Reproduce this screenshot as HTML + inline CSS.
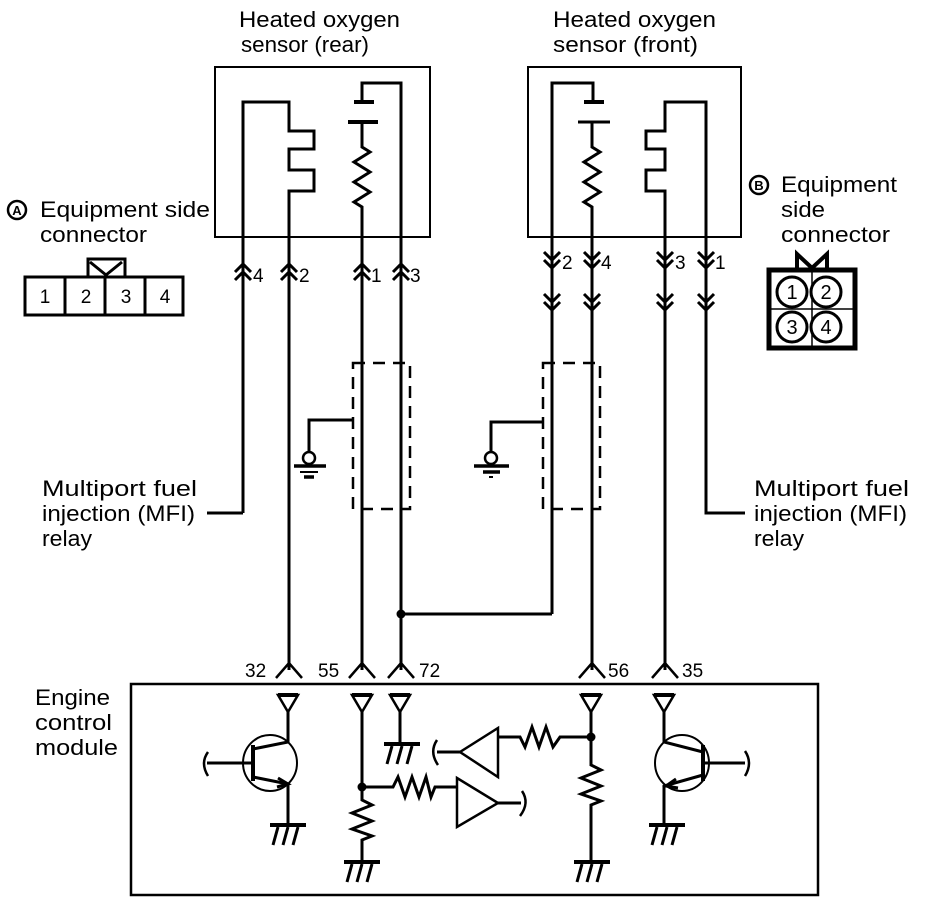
<!DOCTYPE html>
<html><head><meta charset="utf-8"><style>
html,body{margin:0;padding:0;background:#fff}
svg{display:block}
text{font-family:"Liberation Sans",Arial,sans-serif;fill:#000}
</style></head><body>
<svg width="928" height="904" viewBox="0 0 928 904" xmlns="http://www.w3.org/2000/svg">
<defs>
<g id="up"><path d="M-8,8 L0,0 L8,8 M-8,16 L0,8 L8,16" fill="none" stroke="#000" stroke-width="3"/></g>
<g id="dn"><path d="M-8,0 L0,8 L8,0 M-8,8 L0,16 L8,8" fill="none" stroke="#000" stroke-width="3"/></g>
<g id="pin"><path d="M-13,15 L0,0 L13,15" fill="none" stroke="#000" stroke-width="2.5"/></g>
<g id="tri"><path d="M-10,0 L10,0 L0,17 Z" fill="none" stroke="#000" stroke-width="2.5"/><line x1="-10" y1="0" x2="10" y2="0" stroke="#000" stroke-width="4"/></g>
<g id="gnd"><line x1="-18" y1="0" x2="18" y2="0" stroke="#000" stroke-width="4"/><path d="M-10,2 L-15,20 M0,2 L-5,20 M10,2 L5,20" stroke="#000" stroke-width="3"/></g>
</defs>
<g font-size="22" lengthAdjust="spacingAndGlyphs">
<text x="239" y="27" textLength="161" lengthAdjust="spacingAndGlyphs">Heated oxygen</text>
<text x="241" y="52" textLength="128" lengthAdjust="spacingAndGlyphs">sensor (rear)</text>
<text x="553" y="27" textLength="163" lengthAdjust="spacingAndGlyphs">Heated oxygen</text>
<text x="553" y="52" textLength="145" lengthAdjust="spacingAndGlyphs">sensor (front)</text>
<text x="40" y="217" textLength="170" lengthAdjust="spacingAndGlyphs">Equipment side</text>
<text x="40" y="242" textLength="107" lengthAdjust="spacingAndGlyphs">connector</text>
<text x="781" y="192" textLength="116" lengthAdjust="spacingAndGlyphs">Equipment</text>
<text x="781" y="217" textLength="44" lengthAdjust="spacingAndGlyphs">side</text>
<text x="781" y="242" textLength="109" lengthAdjust="spacingAndGlyphs">connector</text>
<text x="42" y="496" textLength="155" lengthAdjust="spacingAndGlyphs">Multiport fuel</text>
<text x="42" y="521" textLength="153" lengthAdjust="spacingAndGlyphs">injection (MFI)</text>
<text x="42" y="546" textLength="50" lengthAdjust="spacingAndGlyphs">relay</text>
<text x="754" y="496" textLength="155" lengthAdjust="spacingAndGlyphs">Multiport fuel</text>
<text x="754" y="521" textLength="153" lengthAdjust="spacingAndGlyphs">injection (MFI)</text>
<text x="754" y="546" textLength="50" lengthAdjust="spacingAndGlyphs">relay</text>
<text x="35" y="705" textLength="75" lengthAdjust="spacingAndGlyphs">Engine</text>
<text x="35" y="730" textLength="77" lengthAdjust="spacingAndGlyphs">control</text>
<text x="35" y="755" textLength="83" lengthAdjust="spacingAndGlyphs">module</text>
</g>
<!-- circled A, B -->
<circle cx="17" cy="210" r="9" fill="none" stroke="#000" stroke-width="2.5"/>
<text x="17" y="215" font-size="13" font-weight="bold" text-anchor="middle">A</text>
<circle cx="759" cy="185" r="9" fill="none" stroke="#000" stroke-width="2.5"/>
<text x="759" y="190" font-size="13" font-weight="bold" text-anchor="middle">B</text>
<!-- connector A -->
<g fill="none" stroke="#000" stroke-width="3">
<rect x="25" y="277" width="158" height="38"/>
<line x1="65" y1="277" x2="65" y2="315"/><line x1="105" y1="277" x2="105" y2="315"/><line x1="145" y1="277" x2="145" y2="315"/>
<path d="M88,277 L88,259 L125,259 L125,277 M90,262 L106,275 L122,262"/>
</g>
<g font-size="19" text-anchor="middle"><text x="45" y="303">1</text><text x="86" y="303">2</text><text x="126" y="303">3</text><text x="165" y="303">4</text></g>
<!-- connector B -->
<g fill="none" stroke="#000">
<rect x="769" y="270" width="86" height="78" stroke-width="5"/>
<line x1="769" y1="309" x2="855" y2="309" stroke-width="1.5"/><line x1="812" y1="270" x2="812" y2="348" stroke-width="1.5"/>
<circle cx="792" cy="292" r="15" stroke-width="3" fill="#fff"/><circle cx="826" cy="292" r="15" stroke-width="3" fill="#fff"/>
<circle cx="792" cy="327" r="15" stroke-width="3" fill="#fff"/><circle cx="826" cy="327" r="15" stroke-width="3" fill="#fff"/>
<path d="M797,270 L797,254 L812,268 L827,254 L827,270" stroke-width="4"/>
</g>
<g font-size="20" text-anchor="middle"><text x="792" y="299">1</text><text x="826" y="299">2</text><text x="792" y="334">3</text><text x="826" y="334">4</text></g>
<!-- sensor boxes -->
<g fill="none" stroke="#000" stroke-width="2">
<rect x="215" y="67" width="215" height="170"/>
<rect x="528" y="67" width="213" height="170"/>
</g>
<g fill="none" stroke="#000" stroke-width="3">
<path d="M243,513 L243,102 L289,102 L289,131 L314,131 L314,149 L289,149 L289,170 L314,170 L314,191 L289,191 L289,670"/>
<path d="M207,513 L243,513"/>
<path d="M401,670 L401,83 L362,83 L362,102"/>
<line x1="354" y1="102" x2="374" y2="102" stroke-width="4"/>
<line x1="348" y1="122" x2="378" y2="122" stroke-width="4"/>
<path d="M362,122 L362,147 L370,152 L354,162 L370,172 L354,182 L370,192 L354,202 L362,207 L362,670"/>
<path d="M552,614 L552,83 L593,83 L593,102"/>
<line x1="584" y1="102" x2="604" y2="102" stroke-width="4"/>
<line x1="578" y1="122" x2="610" y2="122" stroke-width="3"/>
<path d="M592,122 L592,147 L600,152 L584,162 L600,172 L584,182 L600,192 L584,202 L592,207 L592,670"/>
<path d="M665,670 L665,191 L646,191 L646,170 L665,170 L665,149 L646,149 L646,131 L665,131 L665,102 L706,102 L706,513 L745,513"/>
<path d="M401,614 L552,614"/>
<path d="M353,420 L309,420 L309,452"/>
<path d="M543,422 L491,422 L491,452"/>
</g>
<circle cx="401" cy="614" r="4.5"/>
<g fill="none" stroke="#000" stroke-width="2.5">
<circle cx="309" cy="458" r="6"/><circle cx="491" cy="458" r="6"/>
<rect x="353" y="363" width="57" height="146" stroke-dasharray="12,8"/>
<rect x="543" y="363" width="57" height="146" stroke-dasharray="12,8"/>
</g>
<g stroke="#000" stroke-width="3.5">
<line x1="294" y1="466" x2="326" y2="466"/><line x1="300" y1="472" x2="318" y2="472" stroke-width="2"/><line x1="304" y1="477" x2="314" y2="477"/>
<line x1="474" y1="466" x2="509" y2="466"/><line x1="483" y1="472" x2="500" y2="472"/><line x1="489" y1="477" x2="493" y2="477" stroke-width="2"/>
</g>
<use href="#up" x="243" y="264"/><use href="#up" x="289" y="264"/><use href="#up" x="362" y="264"/><use href="#up" x="401" y="264"/>
<g font-size="19"><text x="253" y="282">4</text><text x="299" y="282">2</text><text x="371" y="282">1</text><text x="410" y="282">3</text>
<text x="562" y="269">2</text><text x="601" y="269">4</text><text x="675" y="269">3</text><text x="715" y="269">1</text></g>
<use href="#dn" x="552" y="252"/><use href="#dn" x="592" y="252"/><use href="#dn" x="665" y="252"/><use href="#dn" x="706" y="252"/>
<use href="#dn" x="552" y="294"/><use href="#dn" x="592" y="294"/><use href="#dn" x="665" y="294"/><use href="#dn" x="706" y="294"/>
<use href="#pin" x="289" y="663"/><use href="#pin" x="362" y="663"/><use href="#pin" x="401" y="663"/><use href="#pin" x="592" y="663"/><use href="#pin" x="665" y="663"/>
<g font-size="19"><text x="245" y="677">32</text><text x="318" y="677">55</text><text x="419" y="677">72</text><text x="608" y="677">56</text><text x="682" y="677">35</text></g>
<rect x="131" y="684" width="687" height="211" fill="none" stroke="#000" stroke-width="2.5"/>
<use href="#tri" x="288" y="695"/><use href="#tri" x="362" y="695"/><use href="#tri" x="400" y="695"/><use href="#tri" x="591" y="695"/><use href="#tri" x="664" y="695"/>
<g fill="none" stroke="#000" stroke-width="3">
<ellipse cx="270" cy="763" rx="27" ry="28" stroke-width="2"/>
<path d="M288,712 L288,742 L253,749"/>
<line x1="253" y1="745" x2="253" y2="781" stroke-width="4"/>
<path d="M207,763 L253,763"/>
<path d="M208,752 Q200,763 208,776" stroke-width="2.5"/>
<path d="M253,777 L288,784 L288,823"/>
<path d="M278,778 L288,784 L277,787" stroke-width="3"/>
<path d="M362,712 L362,800 L372,805 L352,813 L372,821 L352,829 L372,836 L362,840 L362,862"/>
<path d="M362,787 L393,787 L398,777 L405,797 L412,777 L419,797 L426,777 L431,797 L435,787 L457,787"/>
<path d="M457,778 L457,827 L498,803 Z" stroke-width="2.5"/>
<path d="M498,803 L521,803"/>
<path d="M522,791 Q530,803 520,816" stroke-width="2.5"/>
<path d="M400,712 L400,743"/>
<path d="M498,728 L498,777 L460,752 Z" stroke-width="2.5"/>
<path d="M460,752 L437,752"/>
<path d="M437,740 Q429,752 438,765" stroke-width="2.5"/>
<path d="M498,737 L520,737 L525,747 L532,727 L539,747 L546,727 L553,747 L560,737 L591,737"/>
<path d="M591,712 L591,765 L601,770 L581,778 L601,786 L581,794 L601,801 L591,805 L591,862"/>
<ellipse cx="682" cy="763" rx="27" ry="28" stroke-width="2"/>
<path d="M664,712 L664,742 L703,752"/>
<line x1="703" y1="745" x2="703" y2="781" stroke-width="4"/>
<path d="M703,763 L745,763"/>
<path d="M745,751 Q753,763 745,776" stroke-width="2.5"/>
<path d="M703,775 L664,786 L664,823"/>
<path d="M676,779 L666,786 L678,788" stroke-width="3"/>
</g>
<circle cx="362" cy="787" r="4.5"/><circle cx="591" cy="737" r="4.5"/>
<use href="#gnd" x="288" y="825"/><use href="#gnd" x="362" y="862"/><use href="#gnd" x="402" y="744"/><use href="#gnd" x="592" y="862"/><use href="#gnd" x="667" y="825"/>
</svg>
</body></html>
